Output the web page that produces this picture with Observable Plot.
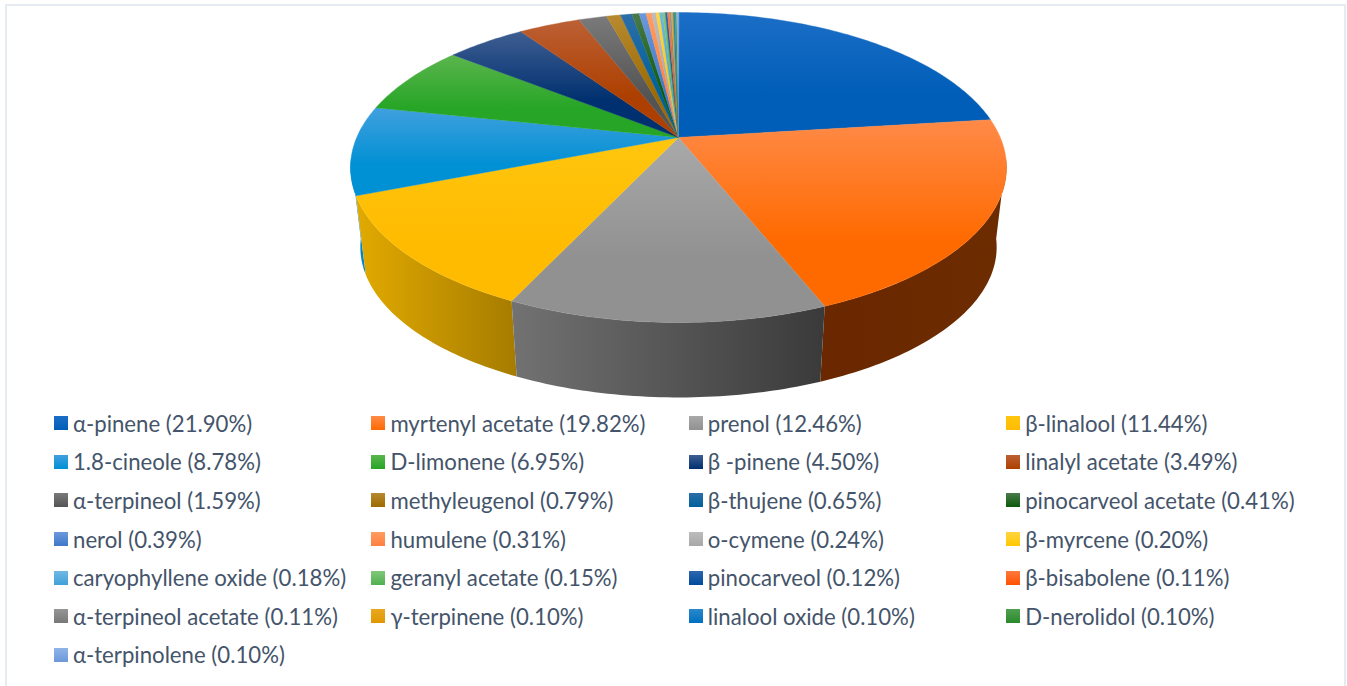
<!DOCTYPE html>
<html>
<head>
<meta charset="utf-8">
<script src="https://cdn.jsdelivr.net/npm/d3@7"></script>
<script src="https://cdn.jsdelivr.net/npm/@observablehq/plot@0.6"></script>
<style>
  html, body { margin: 0; padding: 0; background: #fff; }
  #page { position: relative; width: 1347px; height: 686px; overflow: hidden; }
  #frame { position: absolute; left: 5px; top: 4px; width: 1341px; height: 700px; border: 2px solid #e6eaf1; box-sizing: border-box; }
  #chart { position: absolute; left: 0; top: 0; }
  #legend { position: absolute; left: 54px; top: 404px; display: grid; grid-template-columns: repeat(4, 317.4px); grid-auto-rows: 38.6px;
            font-family: Lato, "Open Sans", sans-serif; font-size: 22.2px; color: #44546a; }
  .item { display: flex; align-items: center; white-space: nowrap; }
  .swatch { width: 14px; height: 14px; margin-right: 5px; flex: none; }
</style>
</head>
<body>
<div id="page">
  <div id="frame"></div>
  <div id="chart"></div>
  <div id="legend"></div>
</div>
<script>
const names = ["α-pinene","myrtenyl acetate","prenol","β-linalool","1.8-cineole","D-limonene","β -pinene","linalyl acetate",
  "α-terpineol","methyleugenol","β-thujene","pinocarveol acetate","nerol","humulene","o-cymene","β-myrcene",
  "caryophyllene oxide","geranyl acetate","pinocarveol","β-bisabolene","α-terpineol acetate","γ-terpinene","linalool oxide","D-nerolidol","α-terpinolene"];
const values = [21.90,19.82,12.46,11.44,8.78,6.95,4.50,3.49,1.59,0.79,0.65,0.41,0.39,0.31,0.24,0.20,0.18,0.15,0.12,0.11,0.11,0.10,0.10,0.10,0.10];
const topLight = ["#1c6ec6","#ff8a47","#a9a9a9","#ffc60f","#41a0de","#5bb54d","#3f5e92","#bc6035","#7a7a7a","#b88a30","#2c6ea8","#4a7a4a",
  "#6c98dc","#ff9d60","#bcbcbc","#ffd440","#70b8e4","#80c878","#2e66ac","#ff7a40","#959595","#e8a820","#2a88cc","#50a050","#90b4e8"];
const topDark = ["#005eb8","#ff6a00","#919191","#ffbb00","#0090d4","#26a526","#00306f","#ad4000","#545454","#9c6a00","#00609c","#0b5a0b",
  "#3e78c8","#ff8040","#a8a8a8","#ffc800","#40a0d8","#50b050","#004a9e","#ff5000","#787878","#e09800","#0070c0","#2a8a2a","#6c98d8"];
const sideSlices = [4, 1, 3, 2];
const sideLeft = {1:"#6a2700", 2:"#727272", 3:"#e2aa00", 4:"#0085c8"};
const sideRight = {1:"#6d2c00", 2:"#3a3a3a", 3:"#a67c00", 4:"#0085c8"};
const k = 0.1935, depth = 0.5395, shrink = 0.97;
const total = d3.sum(values);
const cumulative = d3.cumsum(values);
const spans = values.map((v, i) => [(cumulative[i] - v) / total * 360, cumulative[i] / total * 360]);
const rad = d => d * Math.PI / 180;
function topPoint(deg) {
  const w = 1 + k * Math.cos(rad(deg));
  return {x: Math.sin(rad(deg)) / w, y: Math.cos(rad(deg)) / w};
}
function basePoint(deg) {
  const p = topPoint(deg);
  return {x: p.x * shrink, y: p.y * shrink - depth};
}
function angles(a, b, step) {
  const n = Math.max(1, Math.ceil((b - a) / step));
  return d3.range(n + 1).map(i => a + (b - a) * i / n);
}
const slicePolys = spans.map(([a, b]) => [{x: 0, y: 0}, ...angles(a, b, 1).map(topPoint)]);
const sidePolys = sideSlices.map(i => {
  const arc = angles(Math.max(spans[i][0], 98), Math.min(spans[i][1], 262), 1);
  return [...arc.map(topPoint), ...arc.slice().reverse().map(basePoint)];
});
const defs = () => {
  const d = d3.create("svg:defs");
  names.forEach((_, i) => {
    const g = d.append("linearGradient").attr("id", `g${i}`).attr("x1", 0).attr("y1", 0).attr("x2", 0).attr("y2", 1);
    g.append("stop").attr("offset", "0%").attr("stop-color", topLight[i]);
    g.append("stop").attr("offset", "65%").attr("stop-color", topDark[i]);
  });
  sideSlices.forEach(i => {
    const g = d.append("linearGradient").attr("id", `s${i}`).attr("x1", 0).attr("y1", 0).attr("x2", 1).attr("y2", 0);
    g.append("stop").attr("offset", "0%").attr("stop-color", sideLeft[i]);
    g.append("stop").attr("offset", "100%").attr("stop-color", sideRight[i]);
  });
  return d.node();
};
const chart = Plot.plot({
  width: 1347, height: 405,
  margin: 0,
  style: {background: "transparent"},
  x: {domain: [-1, 1], range: [356.2, 999.8], axis: null},
  y: {domain: [-1, 1], range: [286.2, -12.2], axis: null},
  marks: [
    defs,
    ...sidePolys.map((poly, j) => Plot.line(poly, {x: "x", y: "y", fill: `url(#s${sideSlices[j]})`, stroke: "none", curve: "linear-closed"})),
    ...slicePolys.map((poly, i) => Plot.line(poly, {x: "x", y: "y", fill: `url(#g${i})`, stroke: `url(#g${i})`, strokeWidth: 0.4, curve: "linear-closed"}))
  ]
});
document.getElementById("chart").append(chart);
const legend = d3.select("#legend");
names.forEach((n, i) => {
  const item = legend.append("div").attr("class", "item");
  item.append("span").attr("class", "swatch").style("background", `linear-gradient(${topLight[i]}, ${topDark[i]})`);
  item.append("span").text(`${n} (${values[i].toFixed(2)}%)`);
});
</script>
</body>
</html>
